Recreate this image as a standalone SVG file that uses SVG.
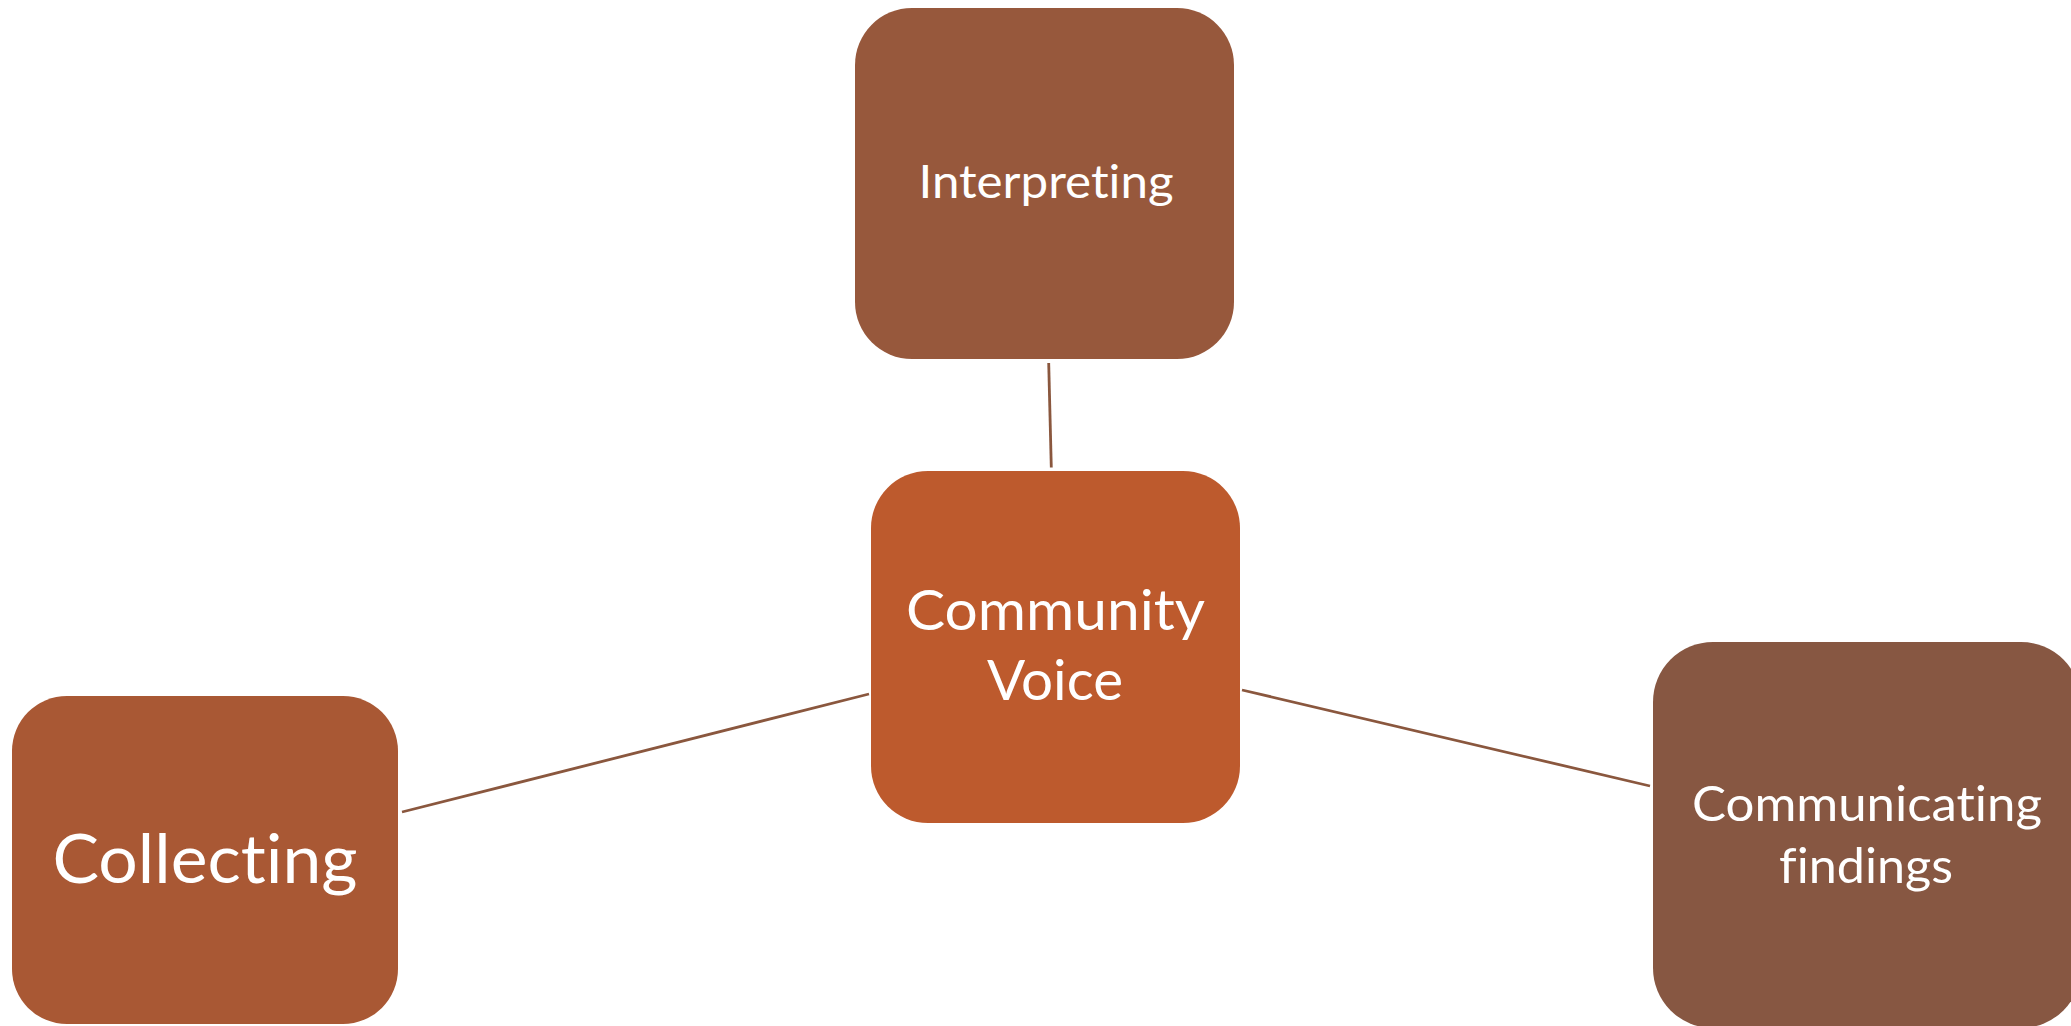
<svg xmlns="http://www.w3.org/2000/svg" width="2071" height="1026" viewBox="0 0 2071 1026">
<style>
.lbl{font-family:Lato,"Open Sans","Liberation Sans",sans-serif;fill:#ffffff;text-anchor:middle;font-variant-ligatures:none;font-feature-settings:"liga" 0,"clig" 0}
.conn{stroke:#8A573E;stroke-width:2.8;fill:none}
</style>
<rect width="2071" height="1026" fill="#ffffff"/>
<g id="connectors">
<line class="conn" x1="1048.7" y1="363" x2="1051.3" y2="467.5"/>
<line class="conn" x1="402" y1="812" x2="869" y2="694"/>
<line class="conn" x1="1242" y1="690" x2="1650" y2="786"/>
</g>
<g id="interpreting">
<rect x="855" y="8" width="379" height="351" rx="57" fill="#97583C"/>
<text class="lbl" x="1046" y="198" font-size="46" textLength="255" lengthAdjust="spacingAndGlyphs">Interpreting</text>
</g>
<g id="community-voice">
<rect x="871" y="471" width="369" height="352" rx="57" fill="#BD5A2D"/>
<text class="lbl" x="1055.5" y="630" font-size="56" textLength="299" lengthAdjust="spacingAndGlyphs">Community</text>
<text class="lbl" x="1055" y="700" font-size="56" textLength="136" lengthAdjust="spacingAndGlyphs">Voice</text>
</g>
<g id="collecting">
<rect x="12" y="696" width="386" height="328" rx="55" fill="#A95834"/>
<text class="lbl" x="205" y="883" font-size="68" textLength="305" lengthAdjust="spacingAndGlyphs">Collecting</text>
</g>
<g id="communicating-findings">
<rect x="1653" y="642" width="428" height="386" rx="60" fill="#875742"/>
<text class="lbl" x="1867" y="821" font-size="49" textLength="350" lengthAdjust="spacingAndGlyphs">Communicating</text>
<text class="lbl" x="1866" y="883" font-size="49" textLength="174" lengthAdjust="spacingAndGlyphs">findings</text>
</g>
</svg>
